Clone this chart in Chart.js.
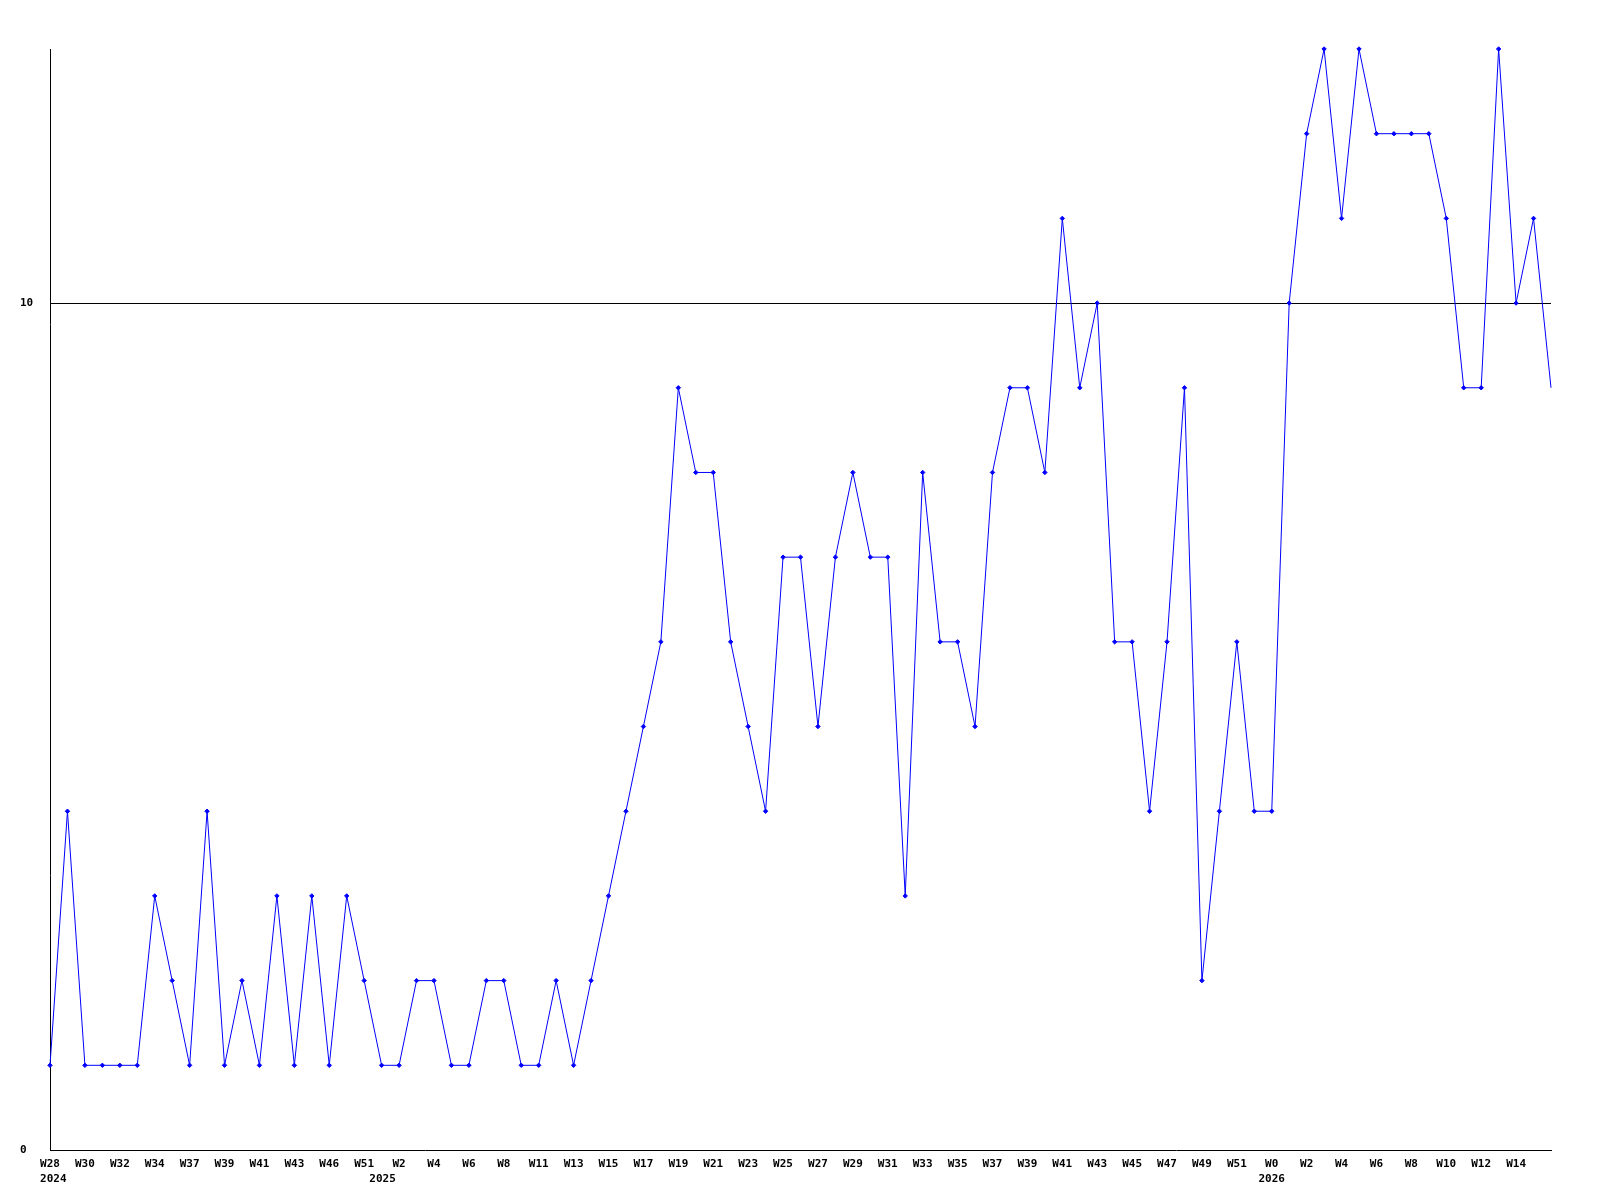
<!DOCTYPE html>
<html>
<head>
<meta charset="utf-8">
<script src="https://cdn.jsdelivr.net/npm/chart.js@4/dist/chart.umd.min.js"></script>
<style>
  html, body { margin: 0; padding: 0; background: #ffffff; }
  #wrap { width: 1600px; height: 1200px; }
</style>
</head>
<body>
<div id="wrap"><canvas id="c" width="1600" height="1200"></canvas></div>
<script>
// Tick labels, one for every second weekly point
const tickLabels = ['W28','W30','W32','W34','W37','W39','W41','W43','W46','W51','W2','W4','W6','W8','W11','W13','W15','W17','W19','W21','W23','W25','W27','W29','W31','W33','W35','W37','W39','W41','W43','W45','W47','W49','W51','W0','W2','W4','W6','W8','W10','W12','W14'];
// Year labels shown under specific tick labels (index into tickLabels)
const yearLabels = { 0: '2024', 10: '2025', 35: '2026' };
// Weekly values
const values = [1,4,1,1,1,1,3,2,1,4,1,2,1,3,1,3,1,3,2,1,1,2,2,1,1,2,2,1,1,2,1,2,3,4,5,6,9,8,8,6,5,4,7,7,5,7,8,7,7,3,8,6,6,5,8,9,9,8,11,9,10,6,6,4,6,9,2,4,6,4,4,10,12,13,11,13,12,12,12,12,11,9,9,13,10,11,9];
const yTicks = [0, 10];

// Horizontal placement of each year line under its week label (monospace spaces)
const yearShift = { 0: [1, 0], 10: [0, 5], 35: [0, 0] };

const categories = values.map((v, i) => {
  if (i % 2 !== 0) return '';
  const k = i / 2;
  const t = tickLabels[k] || '';
  const y = yearLabels[k];
  if (!y) return t;
  const [lead, trail] = yearShift[k] || [0, 0];
  return [t, ' '.repeat(lead) + y + ' '.repeat(trail)];
});

const monoFont = { family: 'DejaVu Sans Mono', size: 11, weight: 'bold', lineHeight: 15 / 11 };

new Chart(document.getElementById('c'), {
  type: 'line',
  data: {
    labels: categories,
    datasets: [{
      data: values,
      borderColor: '#0000ff',
      backgroundColor: '#0000ff',
      borderWidth: 1,
      tension: 0,
      clip: false,
      pointStyle: 'rectRot',
      pointRadius: (ctx) => (ctx.dataIndex === values.length - 1 ? 0 : 2.2),
      pointBorderWidth: 1,
      pointBackgroundColor: '#0000ff',
      pointBorderColor: '#0000ff'
    }]
  },
  options: {
    responsive: false,
    animation: false,
    devicePixelRatio: 1,
    layout: { padding: { left: 20, right: 49, top: 49, bottom: 0 } },
    plugins: { legend: { display: false }, tooltip: { enabled: false } },
    scales: {
      x: {
        type: 'category',
        offset: false,
        grid: { display: false, drawTicks: false },
        border: { display: true, color: '#000000', width: 1 },
        ticks: {
          autoSkip: false,
          maxRotation: 0,
          minRotation: 0,
          padding: 7,
          color: '#000000',
          font: monoFont
        },
        afterFit: (s) => { s.height = 50; }
      },
      y: {
        min: 0,
        max: 13,
        afterBuildTicks: (s) => { s.ticks = yTicks.map(v => ({ value: v })); },
        grid: {
          drawTicks: false,
          color: (ctx) => (ctx.tick && ctx.tick.value === 10) ? '#000000' : 'rgba(0,0,0,0)',
          lineWidth: 1
        },
        border: { display: true, color: '#000000', width: 1 },
        ticks: {
          crossAlign: 'far',
          padding: 0,
          color: '#000000',
          font: monoFont
        },
        afterFit: (s) => { s.width = 30; }
      }
    }
  }
});
</script>
</body>
</html>
